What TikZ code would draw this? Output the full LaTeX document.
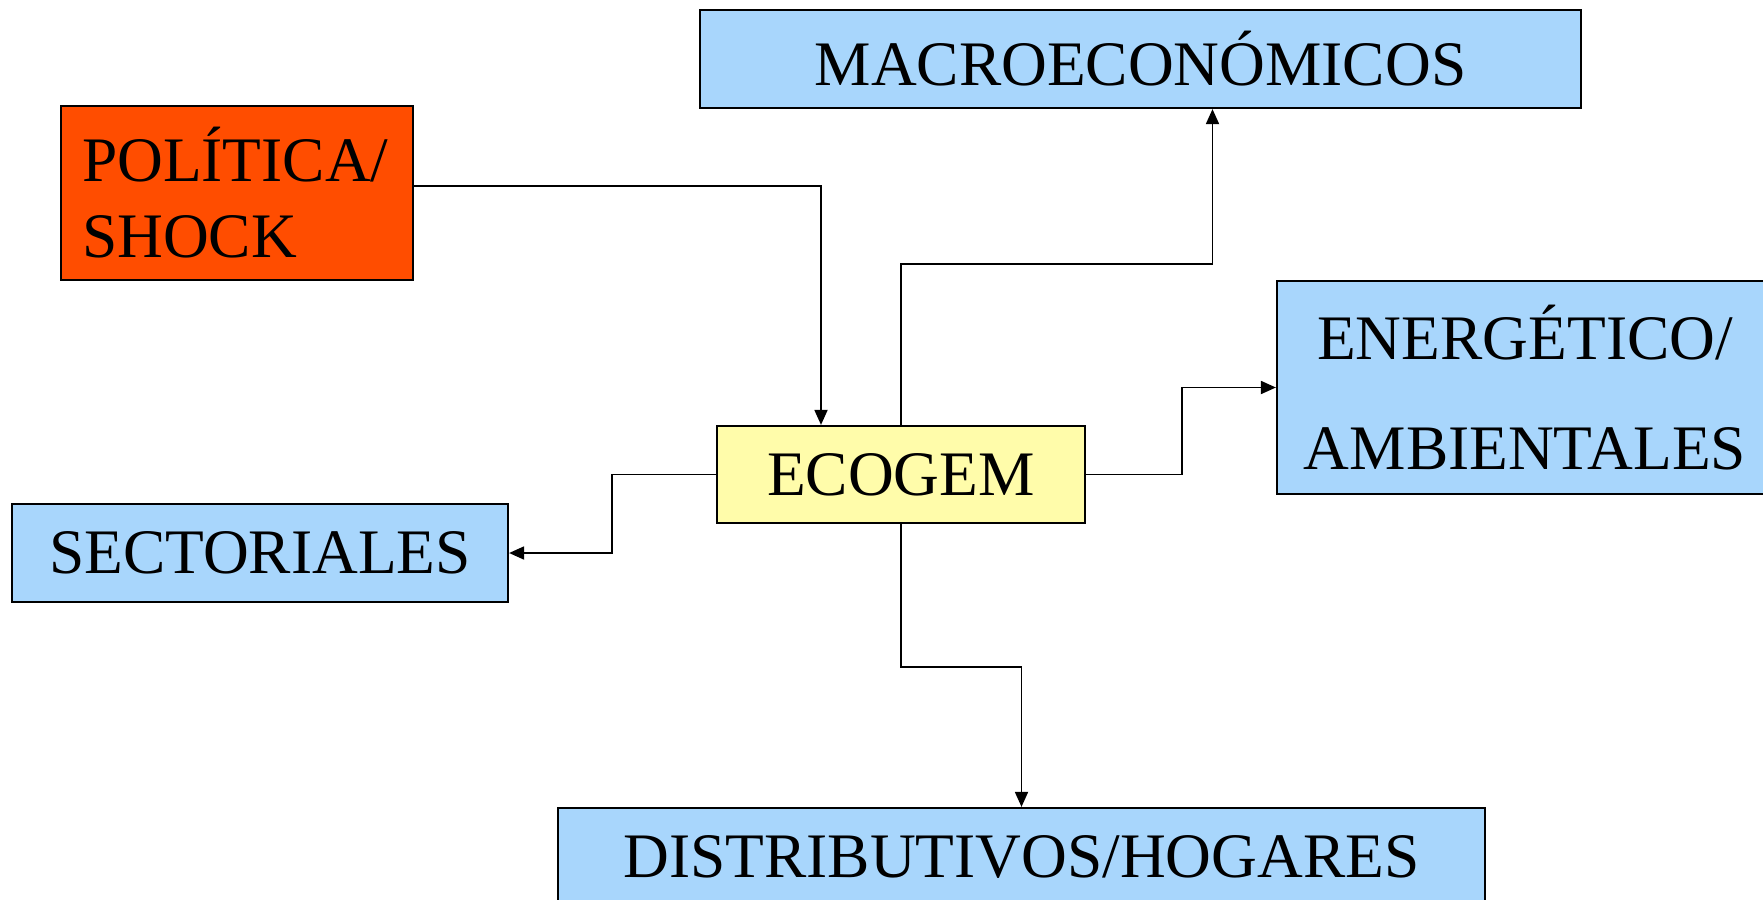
\documentclass[tikz,border=0pt]{standalone}
\usepackage{fontspec}
\setmainfont{Liberation Serif}
\usepackage{tikz}
\usetikzlibrary{arrows.meta}

\definecolor{boxblue}{HTML}{A8D6FC}
\definecolor{shockred}{HTML}{FF4D00}
\definecolor{ecoyellow}{HTML}{FFFCAA}

\tikzset{
	resultbox/.style={draw=black, line width=1.1pt, fill=boxblue, inner sep=0pt, align=center,
		font=\fontsize{31.7}{38}\selectfont},
	conn/.style={draw=black, line width=0.9pt, -{Triangle[length=7.5pt,width=6.5pt]}}
}

\begin{document}
\begin{tikzpicture}[x=0.5pt, y=-0.5pt]
				\useasboundingbox (0,0) rectangle (1763,900);
				\node[resultbox, minimum width=440.5pt, minimum height=49pt] (macro) at (1140.5,59) {MACROECON\'OMICOS};
				\node[resultbox, fill=shockred, minimum height=87pt, text width=155pt, inner xsep=10.5pt, align=left] (politica) at (237,193) {POL\'ITICA/\\SHOCK};
				\node[resultbox, minimum width=248pt, minimum height=106.5pt, font=\fontsize{31.7}{55}\selectfont] (energ) at (1525,387.5) {ENERG\'ETICO/\\AMBIENTALES};
				\node[resultbox, fill=ecoyellow, minimum width=184pt, minimum height=48.5pt] (ecogem) at (901,474.5) {ECOGEM};
				\node[resultbox, minimum width=248pt, minimum height=49pt] (sect) at (260,553) {SECTORIALES};
				\node[resultbox, minimum width=463.5pt, minimum height=49pt] (distrib) at (1021.5,857) {DISTRIBUTIVOS/HOGARES};
				
				% conectores
				\draw[conn] ([yshift=3.5pt]politica.east) -| ([xshift=-40pt]ecogem.north);
				\draw[conn] (ecogem.north) -- ++(0,-161) -| ([xshift=36pt]macro.south);
				\draw[conn] (ecogem.east) -- ++(96,0) |- (energ.west);
				\draw[conn] (ecogem.west) -- ++(-104,0) |- (sect.east);
				\draw[conn] (ecogem.south) -- ++(0,143) -| (distrib.north);
			\end{tikzpicture}
\end{document}
